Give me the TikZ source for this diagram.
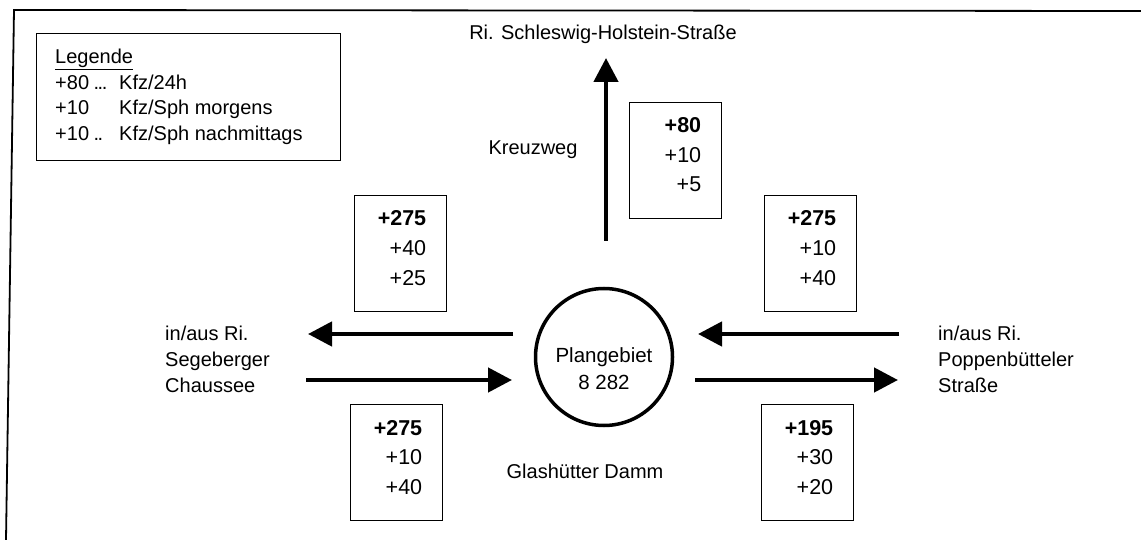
\documentclass[tikz,border=0pt]{standalone}
\usepackage{fontspec}
\setmainfont{Liberation Sans}
\usetikzlibrary{arrows.meta,calc}
\begin{document}
\begin{tikzpicture}[x=1pt,y=-1pt,
  lbl/.style={font=\fontsize{20}{24}\selectfont, inner sep=0pt},
  leg/.style={font=\fontsize{20}{24}\selectfont, inner sep=0pt, anchor=base west},
  numb/.style={font=\fontsize{21.5}{25}\selectfont\bfseries, inner sep=0pt, anchor=base east},
  num/.style={font=\fontsize{21.5}{25}\selectfont, inner sep=0pt, anchor=base east},
  numbox/.style={draw, line width=1.4pt, minimum width=92pt, minimum height=116pt, inner sep=0pt, anchor=north west},
  flow/.style={line width=4.5pt, -{Triangle[length=24pt,width=24pt]}},
  frame/.style={line width=1.8pt},
]
\useasboundingbox (0,0) rectangle (1141,540);
% open frame
\coordinate (fbl) at (6,540);
\coordinate (ftl) at (14,10);
\coordinate (ftr) at (1141,11);
\draw[frame] (fbl) -- (ftl) -- (ftr);

% legend
\node[draw, line width=1.4pt, minimum width=304pt, minimum height=127pt, inner sep=0pt, anchor=north west] (legend) at (36,33) {};
\node[leg] (legt) at (55,64) {\underline{Legende}};
\node[leg] (l1a) at (55,90) {+80 \kern-1pt.\kern-1.5pt.\kern-1.5pt.};
\node[leg] (l1b) at (119,90) {Kfz/24h};
\node[leg] (l2a) at (55,115) {+10};
\node[leg] (l2b) at (119,115) {Kfz/Sph morgens};
\node[leg] (l3a) at (55,141) {+10 \kern-1pt.\kern-1.5pt.};
\node[leg] (l3b) at (119,141) {Kfz/Sph nachmittags};

% labels
\node[lbl, anchor=base] (north) at (603,40) {Ri. Schleswig-Holstein-Straße};
\node[lbl, anchor=base] (kreuz) at (533,155) {Kreuzweg};
\node[lbl, anchor=base] (glas) at (585,478) {Glashütter Damm};
\node[lbl, anchor=base west] (w1) at (165,340) {in/aus Ri.};
\node[lbl, anchor=base west] (w2) at (165,366) {Segeberger};
\node[lbl, anchor=base west] (w3) at (165,392) {Chaussee};
\node[lbl, anchor=base west] (e1) at (938,340) {in/aus Ri.};
\node[lbl, anchor=base west] (e2) at (938,366) {Poppenbütteler};
\node[lbl, anchor=base west] (e3) at (938,392) {Straße};

% planning area
\node[circle, draw, line width=3.5pt, minimum size=137pt, inner sep=0pt] (pg) at (604,357) {};
\node[lbl, font=\fontsize{20.5}{24}\selectfont, anchor=base] (pg1) at (604,362) {Plangebiet};
\node[lbl, font=\fontsize{20.5}{24}\selectfont, anchor=base] (pg2) at (604,389) {8 282};

% arrows
\coordinate (nS) at (606,241);
\coordinate (nE) at (606,58);
\draw[flow] (nS) -- (nE);
\coordinate (wo1) at (513,334);
\coordinate (wo2) at (308,334);
\draw[flow] (wo1) -- (wo2);
\coordinate (wi1) at (306,380);
\coordinate (wi2) at (512,380);
\draw[flow] (wi1) -- (wi2);
\coordinate (ei1) at (899,334);
\coordinate (ei2) at (698,334);
\draw[flow] (ei1) -- (ei2);
\coordinate (eo1) at (695,380);
\coordinate (eo2) at (898,380);
\draw[flow] (eo1) -- (eo2);

% number boxes
\node[numbox] (bn) at (629,102) {};
\node[numb] (bn1) at ($(bn.north east)+(-21,31)$) {+80};
\node[num]  (bn2) at ($(bn.north east)+(-21,60.5)$) {+10};
\node[num]  (bn3) at ($(bn.north east)+(-21,90)$) {+5};

\node[numbox] (bwt) at (354,195) {};
\node[numb] (bwt1) at ($(bwt.north east)+(-21,31)$) {+275};
\node[num]  (bwt2) at ($(bwt.north east)+(-21,60.5)$) {+40};
\node[num]  (bwt3) at ($(bwt.north east)+(-21,90)$) {+25};

\node[numbox] (bet) at (764,195) {};
\node[numb] (bet1) at ($(bet.north east)+(-21,31)$) {+275};
\node[num]  (bet2) at ($(bet.north east)+(-21,60.5)$) {+10};
\node[num]  (bet3) at ($(bet.north east)+(-21,90)$) {+40};

\node[numbox] (bwb) at (350,404) {};
\node[numb] (bwb1) at ($(bwb.north east)+(-21,31)$) {+275};
\node[num]  (bwb2) at ($(bwb.north east)+(-21,60.5)$) {+10};
\node[num]  (bwb3) at ($(bwb.north east)+(-21,90)$) {+40};

\node[numbox] (beb) at (761,404) {};
\node[numb] (beb1) at ($(beb.north east)+(-21,31)$) {+195};
\node[num]  (beb2) at ($(beb.north east)+(-21,60.5)$) {+30};
\node[num]  (beb3) at ($(beb.north east)+(-21,90)$) {+20};
\end{tikzpicture}
\end{document}
